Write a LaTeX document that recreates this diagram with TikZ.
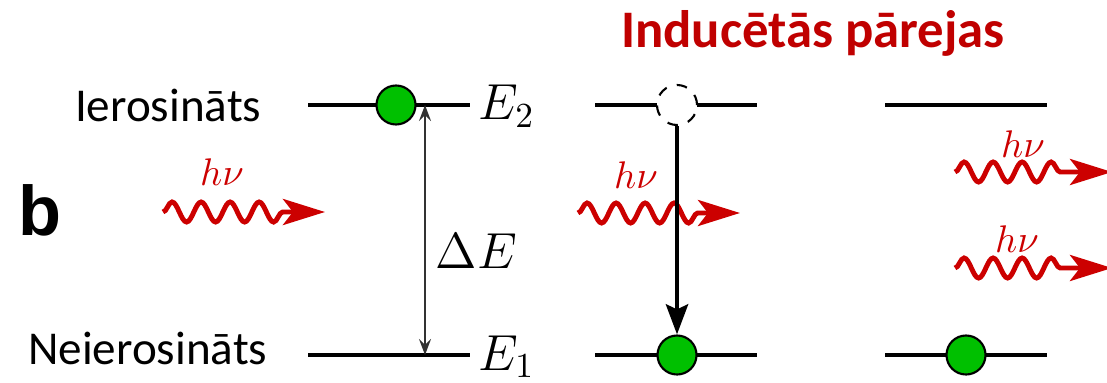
\documentclass[tikz,border=0pt]{standalone}
\usepackage[no-math]{fontspec}
\setmainfont{Carlito}
\newfontfamily\panelfont{Liberation Sans}
\usetikzlibrary{arrows.meta, decorations.pathmorphing}
\definecolor{photonred}{RGB}{204,0,0}
\definecolor{titlered}{RGB}{192,0,0}
\definecolor{electrongreen}{RGB}{0,192,0}

\begin{document}
\begin{tikzpicture}[x=0.01cm, y=-0.01cm,
		level/.style={line width=1.4pt},
		electron/.style={circle, draw=black, line width=0.6pt, fill=electrongreen,
			minimum size=0.39cm, inner sep=0pt},
		vacancy/.style={circle, draw=black, dashed, line width=0.6pt, fill=white,
			minimum size=0.40cm, inner sep=0pt},
		photon/.style={-{Stealth[length=4.2mm, width=2.6mm, inset=1mm]}, line width=1.4pt,
			draw=photonred, decorate,
			decoration={snake, amplitude=1.0mm, segment length=2.9mm, post length=4.2mm}},
		decay/.style={-{Stealth[length=3mm, width=2.2mm, inset=0.5mm]}, line width=1.4pt},
		gap/.style={{Stealth[length=1.6mm, width=1.2mm, inset=0.6mm]}-{Stealth[length=1.6mm, width=1.2mm, inset=0.6mm]},
			line width=0.5pt, draw=black!80},
		hnu/.style={text=photonred, font=\fontsize{11}{13}\selectfont},
		mathlabel/.style={font=\fontsize{14}{16}\selectfont, inner sep=0pt},
		statelabel/.style={font=\fontsize{13.4}{16}\selectfont, inner sep=0pt}
	]
		\useasboundingbox (0,0) rectangle (1107,382);

		% titles
		\node[anchor=base, text=titlered, inner sep=0pt,
			font=\fontsize{15}{18}\selectfont\bfseries] (title) at (813,48) {Inducētās pārejas};
		\node[anchor=base west, inner sep=0pt,
			font=\fontsize{20}{24}\selectfont\panelfont\bfseries] (panel) at (18,235) {b};
		\node[statelabel, anchor=base east] (excited) at (262,122) {Ierosināts};
		\node[statelabel, anchor=base east] (ground) at (268,364) {Neierosināts};

		% energy levels
		\draw[level] (308,105) -- (470,105);
		\draw[level] (308,355) -- (470,355);
		\draw[level] (595,105) -- (757,105);
		\draw[level] (595,355) -- (757,355);
		\draw[level] (885,105) -- (1047,105);
		\draw[level] (885,355) -- (1047,355);

		\node[mathlabel, anchor=base west] (E2) at (478,120) {$E_2$};
		\node[mathlabel, anchor=base west] (E1) at (478,370) {$E_1$};

		% energy gap
		\coordinate (gaptop) at (425,105);
		\coordinate (gapbot) at (425,355);
		\draw[gap] (gaptop) -- (gapbot);
		\node[mathlabel, anchor=west] (dE) at (435,251) {$\Delta E$};

		% photons
		\coordinate (inA) at (163,212);
		\coordinate (inAend) at (325,212);
		\coordinate (inB) at (578,213);
		\coordinate (inBend) at (740,213);
		\coordinate (outA) at (955,172);
		\coordinate (outAend) at (1112,172);
		\coordinate (outB) at (955,268);
		\coordinate (outBend) at (1112,268);
		\draw[photon] (inA) -- (inAend);
		\draw[photon] (inB) -- (inBend);
		\draw[photon] (outA) -- (outAend);
		\draw[photon] (outB) -- (outBend);
		\node[hnu, anchor=base] (hnuA) at (222,185) {$h\nu$};
		\node[hnu, anchor=base] (hnuB) at (636,189) {$h\nu$};
		\node[hnu, anchor=base] (hnuC) at (1023,157) {$h\nu$};
		\node[hnu, anchor=base] (hnuD) at (1017,252) {$h\nu$};

		% electrons
		\node[electron] (eUp) at (396,105) {};
		\node[vacancy] (hole) at (677,105) {};
		\node[electron] (eMid) at (677,355) {};
		\node[electron] (eRight) at (966,355) {};
		\draw[decay] (hole.south) -- (eMid.north);
	\end{tikzpicture}
\end{document}
